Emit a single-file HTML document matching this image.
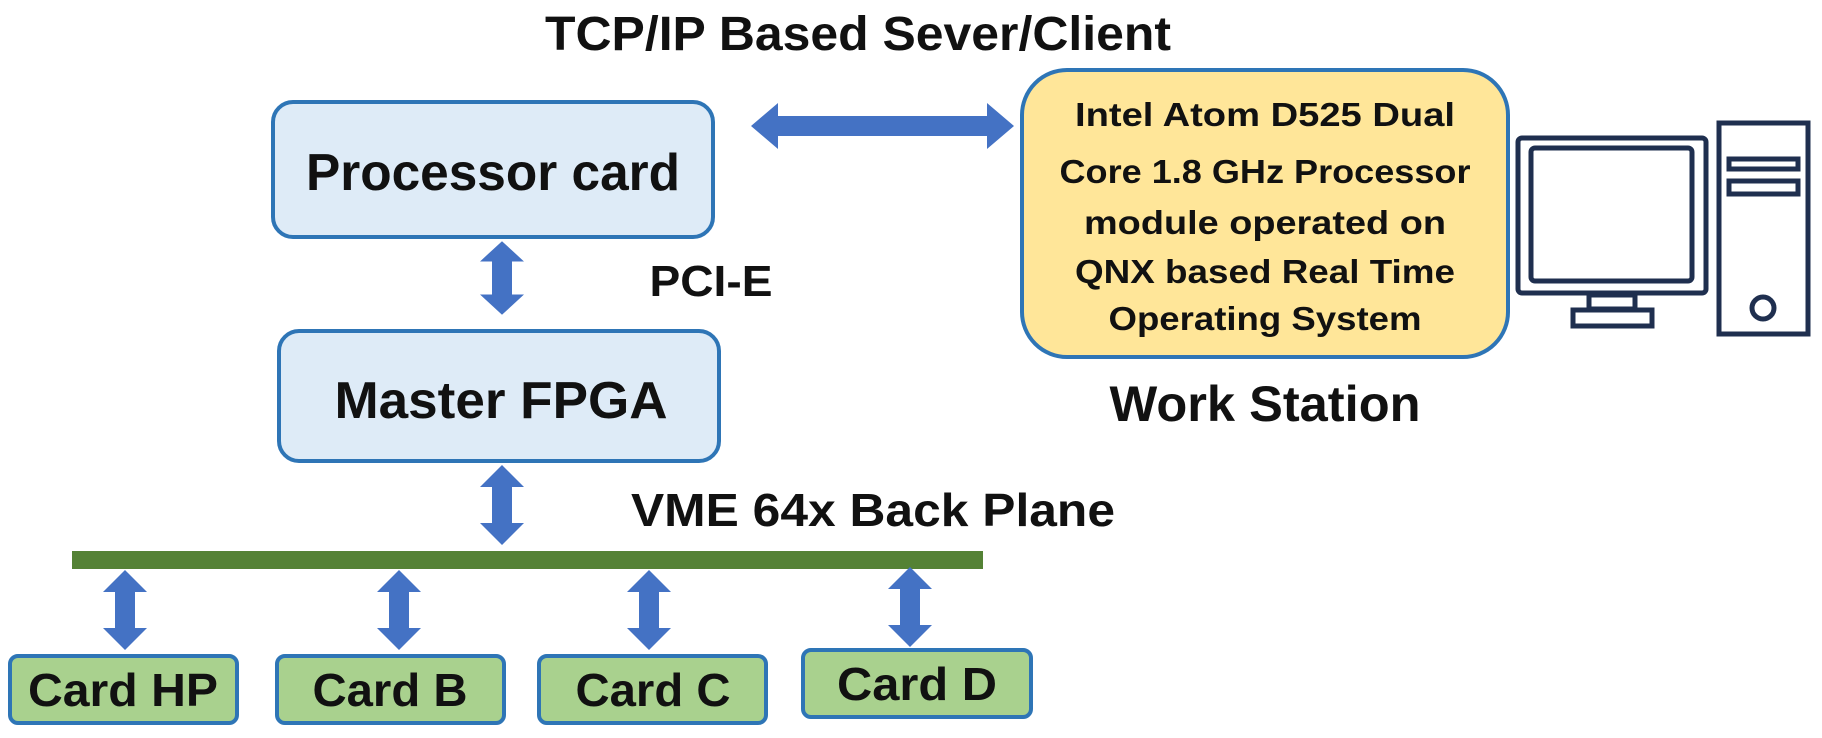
<!DOCTYPE html>
<html><head><meta charset="utf-8"><style>html,body{margin:0;padding:0;background:#fff}svg{display:block}text{font-family:"Liberation Sans",sans-serif;font-weight:bold;fill:#111}</style></head>
<body>
<svg width="1822" height="738" viewBox="0 0 1822 738" xmlns="http://www.w3.org/2000/svg">
<defs>
<g id="va"><polygon points="0,-40 22,-18 10,-18 10,18 22,18 0,40 -22,18 -10,18 -10,-18 -22,-18" fill="#4472c4"/></g>
</defs>
<text x="858" y="50" font-size="48" text-anchor="middle" textLength="626" lengthAdjust="spacingAndGlyphs">TCP/IP Based Sever/Client</text>
<rect x="273" y="102" width="440" height="135" rx="20" fill="#deebf7" stroke="#2e75b6" stroke-width="4"/>
<text x="493" y="190" font-size="52" text-anchor="middle" textLength="374" lengthAdjust="spacingAndGlyphs">Processor card</text>
<polygon points="751,126 778,103 778,116 987,116 987,103 1014,126 987,149 987,136 778,136 778,149" fill="#4472c4"/>
<rect x="1022" y="70" width="486" height="287" rx="45" fill="#ffe699" stroke="#2e75b6" stroke-width="4"/>
<g font-size="33" text-anchor="middle">
<text x="1265" y="126" textLength="380" lengthAdjust="spacingAndGlyphs">Intel Atom D525 Dual</text>
<text x="1265" y="183" textLength="411" lengthAdjust="spacingAndGlyphs">Core 1.8 GHz Processor</text>
<text x="1265" y="234" textLength="362" lengthAdjust="spacingAndGlyphs">module operated on</text>
<text x="1265" y="283" textLength="380" lengthAdjust="spacingAndGlyphs">QNX based Real Time</text>
<text x="1265" y="330" textLength="313" lengthAdjust="spacingAndGlyphs">Operating System</text>
</g>
<g fill="none" stroke="#1f2f4f" stroke-width="5">
<rect x="1518" y="138" width="188" height="155" rx="4"/>
<rect x="1531" y="148" width="161" height="133" rx="4"/>
<rect x="1589" y="295" width="46" height="14"/>
<rect x="1573" y="310" width="79" height="16"/>
<rect x="1719" y="123" width="89" height="211"/>
<rect x="1729" y="159" width="69" height="10"/>
<rect x="1729" y="181" width="69" height="13"/>
<circle cx="1763" cy="308" r="11"/>
</g>
<text x="1265" y="421" font-size="50" text-anchor="middle" textLength="311" lengthAdjust="spacingAndGlyphs">Work Station</text>
<text x="711" y="296" font-size="44" text-anchor="middle" textLength="123" lengthAdjust="spacingAndGlyphs">PCI-E</text>
<use href="#va" transform="translate(502,278) scale(1,0.92)"/>
<rect x="279" y="331" width="440" height="130" rx="20" fill="#deebf7" stroke="#2e75b6" stroke-width="4"/>
<text x="501" y="418" font-size="52" text-anchor="middle" textLength="333" lengthAdjust="spacingAndGlyphs">Master FPGA</text>
<use href="#va" transform="translate(502,505)"/>
<text x="873" y="526" font-size="46" text-anchor="middle" textLength="484" lengthAdjust="spacingAndGlyphs">VME 64x Back Plane</text>
<rect x="72" y="551" width="911" height="18" fill="#548235"/>
<use href="#va" transform="translate(125,610)"/>
<use href="#va" transform="translate(399,610)"/>
<use href="#va" transform="translate(649,610)"/>
<use href="#va" transform="translate(910,607)"/>
<g fill="#a9d18e" stroke="#2e75b6" stroke-width="4">
<rect x="10" y="656" width="227" height="67" rx="8"/>
<rect x="277" y="656" width="227" height="67" rx="8"/>
<rect x="539" y="656" width="227" height="67" rx="8"/>
<rect x="803" y="650" width="228" height="67" rx="8"/>
</g>
<g font-size="46" text-anchor="middle">
<text x="123" y="706" textLength="190" lengthAdjust="spacingAndGlyphs">Card HP</text>
<text x="390" y="706" textLength="155" lengthAdjust="spacingAndGlyphs">Card B</text>
<text x="653" y="706" textLength="155" lengthAdjust="spacingAndGlyphs">Card C</text>
<text x="917" y="700" textLength="160" lengthAdjust="spacingAndGlyphs">Card D</text>
</g>
</svg>
</body></html>
